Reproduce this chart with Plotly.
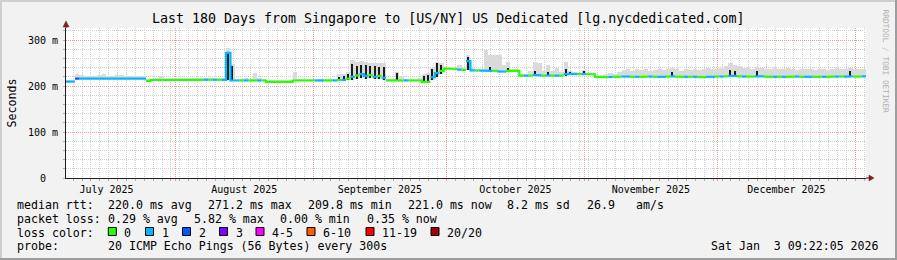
import plotly.graph_objects as go
import pandas as pd

# ---------------- data ----------------
title_text = "Last 180 Days from Singapore to [US/NY] US Dedicated [lg.nycdedicated.com]"
start_time = "2025-07-07 09:22:05"
end_time = "2026-01-03 09:22:05"

# daily median RTT (ms)
median_ms = [
    209.5, 209.5, 216, 216, 216, 216, 216, 216, 215, 216,
    216, 216, 216, 216, 216, 216, 216, 216, 211, 213,
    213.5, 213.5, 213.5, 213.5, 213.5, 213.5, 213.5, 213.5, 213.5, 213.5,
    213.5, 213.5, 213.5, 213.5, 213.5, 213.5, 272, 212, 212, 212,
    212, 212, 212, 212, 212, 209, 209, 209, 209, 209,
    209, 212, 212, 212, 212, 212, 212, 212, 212, 212,
    212, 213, 213, 216, 220, 223, 226, 222, 224, 220,
    222, 218, 212, 212, 212, 212, 212, 212, 212, 212,
    208.5, 209, 219, 228, 233, 238, 238, 237, 235.5, 235,
    254, 234, 233.5, 233.5, 234, 233, 233, 232, 231, 233,
    233, 233, 222.5, 222.5, 222.5, 224, 223, 222.5, 223, 222.5,
    222.5, 222.5, 226, 226, 226, 226, 226, 225.5, 225.5, 220,
    220, 219.5, 219.5, 220, 220, 220.5, 220.5, 220, 220, 220,
    220.5, 220.5, 220, 220, 220, 220.5, 221, 220.5, 220, 220,
    220, 220, 219.5, 219.5, 220, 220, 220.5, 220.5, 221, 222,
    222, 221, 220.5, 220.5, 220.5, 221, 221, 220.5, 220, 220,
    220, 220, 220, 220.5, 220.5, 220, 220, 220, 220, 220,
    220, 220, 220.5, 220.5, 220.5, 220.5, 221, 220.5, 220.5, 221,
]

# lost pings (of 20) for each day's median
loss_pings = [
    1, 1, 2, 1, 1, 1, 1, 1, 1, 1,
    1, 1, 1, 1, 1, 1, 1, 1, 0, 0,
    0, 0, 0, 0, 0, 0, 0, 0, 0, 0,
    0, 1, 0, 1, 0, 1, 1, 1, 1, 0,
    1, 0, 0, 1, 0, 0, 0, 0, 0, 0,
    0, 0, 0, 0, 0, 0, 1, 1, 0, 0,
    1, 0, 1, 0, 1, 0, 1, 1, 0, 1,
    0, 1, 0, 0, 0, 0, 1, 0, 0, 0,
    0, 0, 1, 1, 0, 0, 0, 0, 1, 0,
    1, 1, 0, 1, 1, 1, 0, 1, 1, 0,
    0, 0, 0, 1, 0, 1, 1, 0, 1, 0,
    1, 0, 1, 1, 1, 0, 1, 0, 0, 0,
    0, 0, 1, 0, 0, 1, 1, 0, 1, 0,
    0, 1, 0, 1, 1, 0, 1, 0, 0, 1,
    0, 1, 0, 0, 1, 1, 0, 1, 0, 1,
    1, 0, 1, 0, 0, 1, 1, 0, 0, 1,
    0, 1, 0, 0, 1, 0, 1, 1, 0, 0,
    1, 0, 0, 1, 0, 1, 1, 0, 0, 1,
]

# highest ping of the day (ms) -> top of the smoke
smoke_top_ms = [
    212, 213, 226, 224, 221, 221, 222, 224, 226, 222,
    222, 223, 224, 222, 222, 221, 221, 222, 214, 216,
    216, 222, 216, 216, 217, 216, 216, 216, 217, 216,
    216, 217, 216, 217, 216, 217, 282, 248, 216, 216,
    217, 216, 228, 217, 216, 211, 211, 212, 211, 211,
    212, 231, 215, 215, 215, 216, 215, 215, 216, 215,
    216, 226, 227, 230, 256, 252, 254, 252, 250, 251,
    249, 250, 215, 215, 230, 222, 215, 215, 215, 218,
    226, 228, 240, 252, 249, 241, 241, 241, 246, 239,
    267, 240, 238, 238, 278, 267, 268, 267, 245, 253,
    236, 235, 226, 227, 232, 253, 249, 232, 245, 232,
    240, 230, 253, 232, 230, 229, 234, 228, 228, 224,
    225, 226, 228, 227, 230, 234, 236, 232, 238, 234,
    236, 233, 235, 238, 234, 236, 240, 236, 233, 237,
    235, 238, 234, 236, 239, 236, 238, 240, 244, 249,
    246, 243, 240, 242, 238, 242, 240, 237, 238, 241,
    236, 238, 240, 237, 235, 238, 236, 237, 234, 236,
    238, 235, 237, 240, 236, 238, 240, 236, 237, 238,
]

# days with a dense (dark) band of pings
dense_day = [36, 37, 61, 62, 63, 64, 65, 66, 67, 68, 69, 70, 71, 74, 80, 81, 82, 83, 84,
             90, 95, 99, 105, 108, 112, 113, 116, 136, 149, 150, 155, 176]
dense_lo_ms = [213, 212, 212, 213, 214, 214, 216, 218, 216, 217, 215, 215, 213, 212, 208, 208, 212, 220, 226,
               235, 232, 231, 221, 222, 222, 224, 225, 220, 219, 220, 220, 219]
dense_hi_ms = [272, 243, 220, 222, 227, 248, 243, 246, 245, 243, 244, 241, 242, 228, 222, 224, 236, 249, 246,
               264, 242, 240, 232, 230, 238, 230, 232, 230, 235, 233, 232, 232]

loss_labels = ["0", "1", "2", "3", "4-5", "6-10", "11-19", "20/20"]
loss_upper = [0, 1, 2, 3, 5, 10, 19, 20]
loss_colors = ["#26ff00", "#00b8ff", "#0059ff", "#7e00ff", "#ff00ff", "#ff5e00", "#ff0000", "#a10000"]

y_tickvals = [0, 100, 200, 300]
y_ticktext = ["0\u00a0\u00a0", "100 m", "200 m", "300 m"]

median_line = ["median rtt:", "220.0 ms avg", "271.2 ms max", "209.8 ms min", "221.0 ms now", "8.2 ms sd", "26.9", "am/s"]
loss_line = ["packet loss:", "0.29 % avg", "5.82 % max", "0.00 % min", "0.35 % now"]
probe_line = ["probe:", "20 ICMP Echo Pings (56 Bytes) every 300s"]
date_text = "Sat Jan\u00a0\u00a03 09:22:05 2026"

# ---------------- layout constants ----------------
MONO = "DejaVu Sans Mono"
W, H = 897, 260
L, R, T, B = 66, 31, 28, 82
PW, PH = W - L - R, H - T - B
BACK = "#f2f2f2"
SHADE_A = "#cfcfcf"
SHADE_B = "#9e9e9e"
GRID = "#cfcfcf"
MGRID = "#f09a9a"
ARROW = "#801f1f"
AXIS = "#1f1f1f"
SMOKE = "#dadada"
DENSE = "#1c1c1c"


def px_x(px):
    return (px - L) / PW


def px_y(py):
    return (H - B - py) / PH


n = len(median_ms)
t0 = pd.Timestamp(start_time)
day_start = [t0 + pd.Timedelta(days=i) for i in range(n + 1)]
day_mid = [t0 + pd.Timedelta(days=i, hours=12) for i in range(n)]


def loss_index(v):
    for k, up in enumerate(loss_upper):
        if v <= up:
            return k
    return len(loss_upper) - 1


fig = go.Figure()

# light smoke
dense_map = {d: (lo, hi) for d, lo, hi in zip(dense_day, dense_lo_ms, dense_hi_ms)}
smoke_base = [min(median_ms[i], dense_map.get(i, (median_ms[i], 0))[0]) for i in range(n)]
fig.add_trace(go.Bar(
    x=day_mid, base=smoke_base, y=[smoke_top_ms[i] - smoke_base[i] for i in range(n)],
    width=[86400000] * n, marker=dict(color=SMOKE, line=dict(width=0)),
    hoverinfo="skip", showlegend=False))

# dense smoke
fig.add_trace(go.Bar(
    x=[day_mid[d] for d in dense_day], base=dense_lo_ms,
    y=[h - l for l, h in zip(dense_lo_ms, dense_hi_ms)],
    width=[28000000] * len(dense_day), marker=dict(color=DENSE, line=dict(width=0)),
    hoverinfo="skip", showlegend=False))

# median line coloured by loss
idx = [loss_index(v) for v in loss_pings]
for c in sorted(set(idx)):
    xs, ys = [], []
    i = 0
    while i < n:
        if idx[i] != c:
            i += 1
            continue
        j = i
        while j + 1 < n and idx[j + 1] == c:
            j += 1
        for k in range(i, j + 1):
            xs += [day_start[k], day_start[k + 1]]
            ys += [median_ms[k], median_ms[k]]
        xs.append(None)
        ys.append(None)
        i = j + 1
    fig.add_trace(go.Scatter(x=xs, y=ys, mode="lines",
                             line=dict(color=loss_colors[c], width=2.2),
                             hoverinfo="skip", showlegend=False))

fig.update_layout(
    width=W, height=H, autosize=False,
    margin=dict(l=L, r=R, t=T, b=B, pad=0),
    paper_bgcolor=BACK, plot_bgcolor="#ffffff",
    barmode="overlay", bargap=0,
    showlegend=False,
    font=dict(family=MONO, color="#000000"),
    xaxis=dict(
        type="date", range=[start_time, end_time],
        dtick="M1", tick0="2025-08-01", tickformat="%B %Y", ticklabelmode="period",
        showgrid=True, gridcolor=MGRID, griddash="1px,1px", gridwidth=1,
        ticks="outside", ticklen=2, tickcolor=MGRID, tickwidth=1,
        tickfont=dict(family=MONO, size=10, color="#000000"),
        showline=True, linecolor=AXIS, linewidth=1, zeroline=False,
        ticklabelstandoff=0,
        minor=dict(dtick=172800000, tick0="2025-07-09", showgrid=True, gridcolor=GRID,
                   griddash="1px,1px", gridwidth=1, ticks="outside", ticklen=2, tickcolor="#b0b0b0"),
        fixedrange=True,
    ),
    yaxis=dict(
        range=[0, 326.1], tickmode="array", tickvals=y_tickvals, ticktext=y_ticktext,
        showgrid=True, gridcolor=MGRID, griddash="1px,1px", gridwidth=1,
        ticks="outside", ticklen=2, tickcolor=MGRID,
        tickfont=dict(family=MONO, size=10, color="#000000"),
        showline=True, linecolor=AXIS, linewidth=1, zeroline=False,
        ticklabelstandoff=3,
        minor=dict(dtick=20, tick0=0, showgrid=True, gridcolor=GRID, griddash="1px,1px",
                   gridwidth=1, ticks="outside", ticklen=2, tickcolor="#b0b0b0"),
        fixedrange=True,
    ),
)

# frame shading
shapes = [
    dict(type="rect", x0=px_x(0), x1=px_x(W), y0=px_y(2), y1=px_y(0), fillcolor=SHADE_A, line=dict(width=0)),
    dict(type="rect", x0=px_x(0), x1=px_x(2), y0=px_y(H), y1=px_y(0), fillcolor=SHADE_A, line=dict(width=0)),
    dict(type="rect", x0=px_x(W - 2), x1=px_x(W), y0=px_y(H), y1=px_y(0), fillcolor=SHADE_B, line=dict(width=0)),
    dict(type="rect", x0=px_x(0), x1=px_x(W), y0=px_y(H), y1=px_y(H - 2), fillcolor=SHADE_B, line=dict(width=0)),
    # axis extensions + arrows
    dict(type="line", x0=px_x(866), x1=px_x(870), y0=0, y1=0, line=dict(color=AXIS, width=1)),
    dict(type="path", path="M %f %f L %f %f L %f %f Z" % (px_x(869), px_y(175), px_x(874), px_y(178), px_x(869), px_y(181)),
         fillcolor=ARROW, line=dict(color=ARROW, width=0.5)),
    dict(type="line", x0=0, x1=0, y0=1, y1=px_y(24), line=dict(color=AXIS, width=1)),
    dict(type="path", path="M %f %f L %f %f L %f %f Z" % (px_x(63), px_y(27), px_x(66), px_y(21), px_x(69), px_y(27)),
         fillcolor=ARROW, line=dict(color=ARROW, width=0.5)),
]
for s in shapes:
    s.update(xref="paper", yref="paper", layer="above")
    fig.add_shape(**s)


def label(text, px, py, size, xanchor="left", color="#000000", angle=0):
    fig.add_annotation(text=text, x=px_x(px), y=px_y(py), xref="paper", yref="paper",
                       xanchor=xanchor, yanchor="middle", showarrow=False, borderpad=0,
                       textangle=angle, font=dict(family=MONO, size=size, color=color))


label(title_text, 448, 19, 13.3, xanchor="center")
label("Seconds", 11, 102.5, 11.6, xanchor="center", angle=-90)
label("RRDTOOL / TOBI OETIKER", 885, 61.5, 7.8, xanchor="center", color="#b0b0b0", angle=90)

LEG = 11.6
for txt, px in zip(median_line, [16, 107.3, 207.3, 307.3, 407.3, 506, 586, 635]):
    label(txt, px, 204.5, LEG)
for txt, px in zip(loss_line, [16, 107.3, 193.3, 279.3, 365.7]):
    label(txt, px, 218.5, LEG)
label("loss color:", 16, 232.5, LEG)
sq_left = [108.3, 145.5, 182.5, 219.5, 256, 307, 366, 431]
for lab, col, sx in zip(loss_labels, loss_colors, sq_left):
    fig.add_shape(type="rect", xref="paper", yref="paper",
                  x0=px_x(sx), x1=px_x(sx + 8), y0=px_y(235.5), y1=px_y(227.5),
                  fillcolor=col, line=dict(color="#000000", width=1))
    label(lab, sx + 15, 232.5, LEG)
for txt, px in zip(probe_line, [16, 107.3]):
    label(txt, px, 246.2, LEG)
label(date_text, 880, 246.2, LEG, xanchor="right")

fig.write_html("out.html")
